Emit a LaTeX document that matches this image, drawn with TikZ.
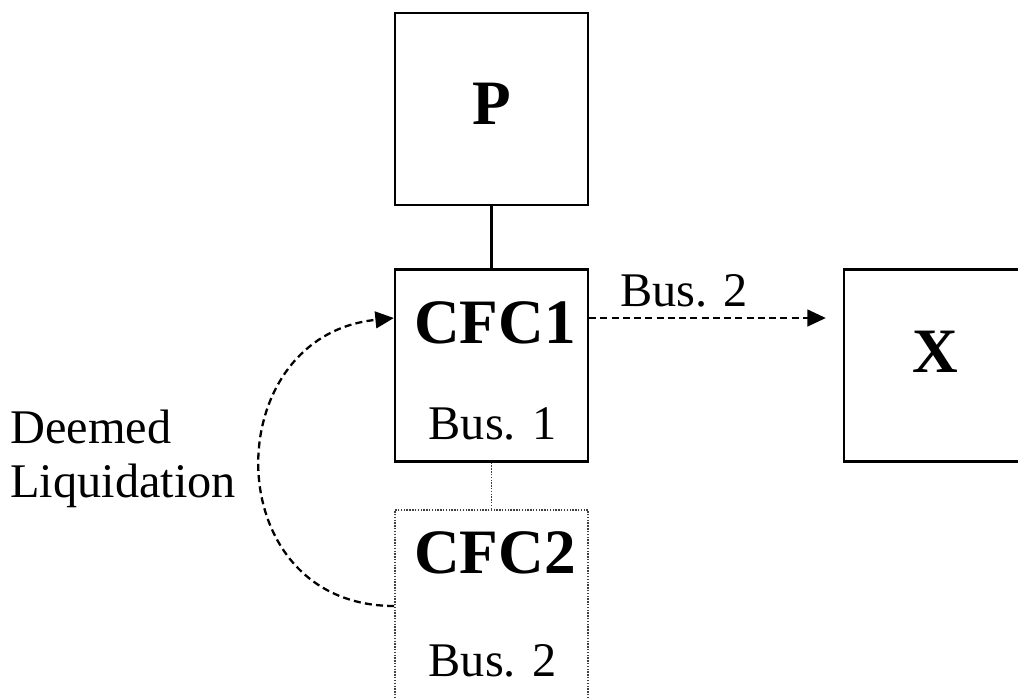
\documentclass[tikz,border=0pt]{standalone}
\usepackage{fontspec}
\setmainfont{Liberation Serif}
\usetikzlibrary{arrows.meta, positioning}
\tikzstyle{entity} = [draw, line width=1.35pt,
    minimum width=3.86cm, minimum height=3.84cm, inner sep=0pt]
\tikzstyle{ghost} = [entity, draw=black!75, line width=0.9pt,
    dash pattern=on 0.8pt off 0.8pt]
\tikzstyle{bigname} = [font=\fontsize{36}{40}\selectfont\bfseries,
    anchor=base, inner sep=0pt]
\tikzstyle{plain} = [font=\fontsize{27.5}{31}\selectfont,
    anchor=base, inner sep=0pt]
\tikzstyle{flow} = [line width=1.3pt, dash pattern=on 4pt off 2.4pt,
    -{Triangle[length=10.5pt,width=9.5pt]}]

\begin{document}
\begin{tikzpicture}[x=0.02cm, y=-0.02cm]
        \useasboundingbox (0,0) rectangle (1018,699);
        \node[entity] at (491.5,109) (P) {};
        \node[entity] at (491.5,365.5) (CFC1) {};
        \node[entity] at (940.5,365.5) (X) {};
        \node[ghost] at (491.5,606) (CFC2) {};

        \node[bigname] at (491.5,125) (Ptxt) {P};
        \node[bigname] at (495,343) (CFC1txt) {CFC1};
        \node[plain] at (492.5,439) (CFC1bus) {Bus. 1};
        \node[bigname] at (935,373) (Xtxt) {X};
        \node[bigname] at (495,573) (CFC2txt) {CFC2};
        \node[plain] at (492.5,676) (CFC2bus) {Bus. 2};
        \node[plain, anchor=west, align=left] at (10,459) (deemed) {Deemed\\Liquidation};

            \draw[line width=1.35pt] (P) -- (CFC1);
            \draw[draw=black!75, line width=0.9pt, dash pattern=on 0.8pt off 0.8pt] (CFC1) -- (CFC2);
            \draw[flow, shorten >=0.34cm] ([yshift=0.95cm]CFC1.east) -- node[plain, anchor=south, yshift=0.2cm, xshift=-0.64cm] (bus2) {Bus. 2} ([yshift=0.95cm]X.west);
            \draw[flow] (CFC2.west) .. controls +(-178,0) and +(-178,18) .. ([yshift=0.95cm]CFC1.west);
\end{tikzpicture}
\end{document}
